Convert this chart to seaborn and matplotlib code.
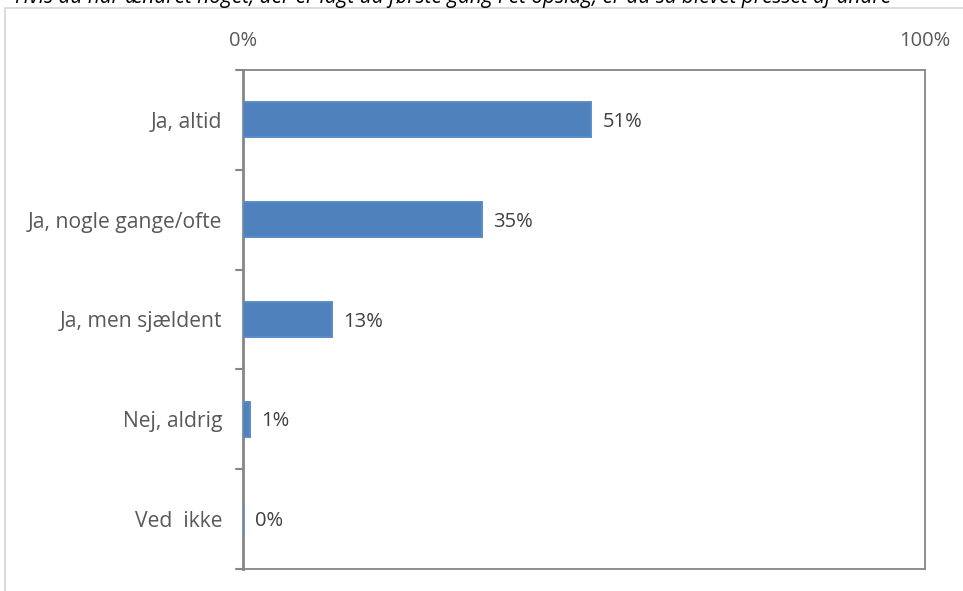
import matplotlib
matplotlib.use("Agg")
import matplotlib.pyplot as plt
from matplotlib.patches import Rectangle
import seaborn as sns
import pandas as pd

categories = ["Ja, altid", "Ja, nogle gange/ofte", "Ja, men sjældent", "Nej, aldrig", "Ved  ikke"]
shares = [51, 35, 13, 1, 0]
value_labels = ["51%", "35%", "13%", "1%", "0%"]
x_tick_labels = ["0%", "100%"]

title = ("Hvis du har ændret noget, der er lagt ud første gang i et opslag, "
         "er du så blevet presset af andre")

sns.set_theme(style="white")
plt.rcParams["font.family"] = ["Open Sans", "DejaVu Sans"]

W, H = 963, 591
fig = plt.figure(figsize=(W / 100, H / 100), dpi=100)
ax = fig.add_axes([243 / W, 1 - 569 / H, (925 - 243) / W, (569 - 70) / H])

df = pd.DataFrame({"kategori": categories, "andel": shares})
sns.barplot(data=df, x="andel", y="kategori", orient="h", ax=ax,
            color="#4F81BD", saturation=1, width=0.35,
            edgecolor="#5B8CC6", linewidth=1.4)
for bar in ax.patches:
    bar.set_zorder(3)

ax.set_xlim(0, 100)
ax.set_ylim(len(categories) - 0.5, -0.5)
ax.set_xlabel("")
ax.set_ylabel("")

# percentage axis on top, labels only
ax.xaxis.tick_top()
ax.set_xticks([0, 100])
ax.set_xticklabels(x_tick_labels, fontsize=14.5, color="#595959")
ax.tick_params(axis="x", length=0, pad=14)

# category labels, tick marks between categories
ax.set_yticks(range(len(categories)))
ax.set_yticklabels(categories, fontsize=15.2, color="#595959")
ax.tick_params(axis="y", length=0, pad=15)
for b in [i - 0.5 for i in range(len(categories) + 1)]:
    ax.plot([-1.0, 0], [b, b], color="#868686", lw=1.5, clip_on=False)

for side in ["top", "bottom", "left", "right"]:
    ax.spines[side].set_visible(True)
    ax.spines[side].set_color("#868686")
    ax.spines[side].set_linewidth(1.3)
ax.spines["left"].set_linewidth(2)

for i, (v, lab) in enumerate(zip(shares, value_labels)):
    ax.annotate(lab, xy=(v, i), xytext=(8.5, -1.5), textcoords="offset points",
                va="center", ha="left", fontsize=14.5, color="#404040")

# outer chart frame
fig.patches.append(Rectangle((5 / W, -0.1), 1.2, 1.1 - 8 / H,
                             transform=fig.transFigure, fill=False,
                             edgecolor="#D9D9D9", linewidth=1.3))

fig.text(15 / W, 1 - 3.5 / H, title, ha="left", va="baseline",
         fontsize=15, style="italic", color="black")

fig.savefig("out.png", dpi=100)
